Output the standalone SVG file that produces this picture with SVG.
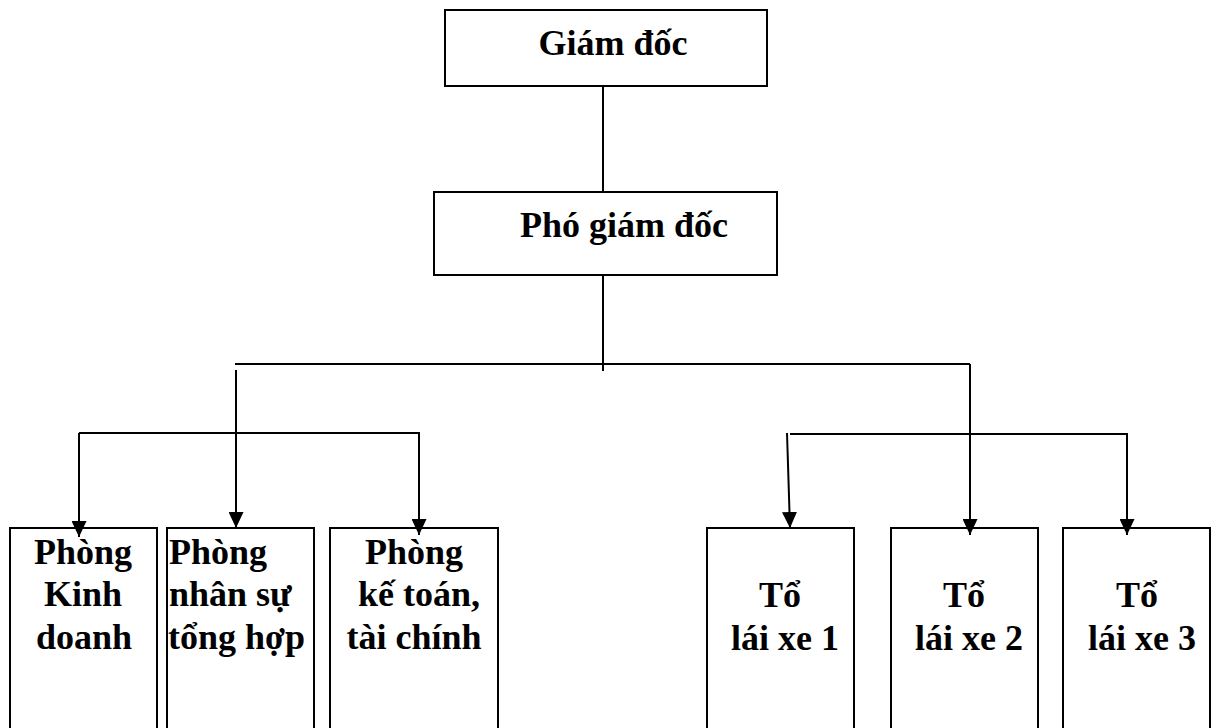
<svg xmlns="http://www.w3.org/2000/svg" width="1212" height="728" viewBox="0 0 1212 728">
<style>
.box{fill:#fff;stroke:#000;stroke-width:2}
.t{font-family:"Liberation Serif","Times New Roman",serif;font-weight:bold;font-size:36px;fill:#000}
.c{text-anchor:middle}
.ln{fill:none;stroke:#000;stroke-width:2}
</style>
<defs>
<marker id="ah" markerUnits="userSpaceOnUse" markerWidth="16" markerHeight="15" refX="16" refY="7.5" orient="auto">
<path d="M0,0 L16,7.5 L0,15 z" fill="#000"/>
</marker>
</defs>
<rect width="1212" height="728" fill="#fff"/>
<g id="giam-doc">
<rect class="box" x="445" y="10" width="322" height="76"/>
<text class="t c" x="613" y="55">Giám đốc</text>
</g>
<g id="pho-giam-doc">
<rect class="box" x="434" y="192" width="343" height="83"/>
<text class="t c" x="624" y="237">Phó giám đốc</text>
</g>
<g id="phong-kinh-doanh">
<rect class="box" x="10" y="528" width="147" height="220"/>
<text class="t c" x="83" y="564">Phòng</text>
<text class="t c" x="83" y="606">Kinh</text>
<text class="t c" x="84" y="649">doanh</text>
</g>
<g id="phong-nhan-su">
<rect class="box" x="167" y="528" width="147" height="220"/>
<text class="t" x="169" y="564">Phòng</text>
<text class="t" x="169" y="606">nhân sự</text>
<text class="t" x="168" y="649">tổng hợp</text>
</g>
<g id="phong-ke-toan">
<rect class="box" x="330" y="528" width="168" height="220"/>
<text class="t c" x="414" y="564">Phòng</text>
<text class="t c" x="419" y="606">kế toán,</text>
<text class="t c" x="414" y="649">tài chính</text>
</g>
<g id="to-lai-xe-1">
<rect class="box" x="707" y="528" width="147" height="220"/>
<text class="t c" x="780" y="607">Tổ</text>
<text class="t c" x="785" y="650">lái xe 1</text>
</g>
<g id="to-lai-xe-2">
<rect class="box" x="891" y="528" width="147" height="220"/>
<text class="t c" x="964" y="607">Tổ</text>
<text class="t c" x="969" y="650">lái xe 2</text>
</g>
<g id="to-lai-xe-3">
<rect class="box" x="1063" y="528" width="147" height="220"/>
<text class="t c" x="1137" y="607">Tổ</text>
<text class="t c" x="1142" y="650">lái xe 3</text>
</g>
<g id="connectors">
<line class="ln" x1="603" y1="86" x2="603" y2="192"/>
<line class="ln" x1="603" y1="275" x2="603" y2="371"/>
<line class="ln" x1="235" y1="364" x2="970" y2="364"/>
<line class="ln" x1="236" y1="370" x2="236" y2="528" marker-end="url(#ah)"/>
<polyline class="ln" points="79,433 419,433 419,535" marker-end="url(#ah)"/>
<line class="ln" x1="79" y1="433" x2="79" y2="537" marker-end="url(#ah)"/>
<line class="ln" x1="970" y1="364" x2="970" y2="535" marker-end="url(#ah)"/>
<polyline class="ln" points="790,434 1127,434 1127,535" marker-end="url(#ah)"/>
<line class="ln" x1="787" y1="433" x2="790" y2="528" marker-end="url(#ah)"/>
</g>
</svg>
